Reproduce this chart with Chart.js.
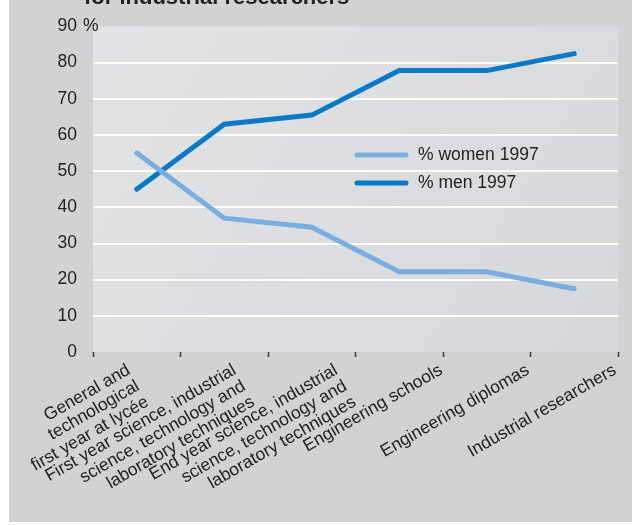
<!DOCTYPE html>
<html>
<head>
<meta charset="utf-8">
<script src="https://cdn.jsdelivr.net/npm/chart.js@4/dist/chart.umd.min.js"></script>
<style>
  html, body { margin: 0; padding: 0; background: #ffffff; }
  #wrap { width: 632px; height: 525px; }
</style>
</head>
<body>
<div id="wrap"><canvas id="chart" width="632" height="525"></canvas></div>
<script>
// Education stages, from lycée to industrial research
const categories = [
  ['General and', 'technological', 'first year at lycée'],
  ['First year science, industrial', 'science, technology and', 'laboratory techniques'],
  ['End year science, industrial', 'science, technology and', 'laboratory techniques'],
  'Engineering schools',
  'Engineering diplomas',
  'Industrial researchers'
];

// Shares of women and men at each stage, 1997 (%)
const womenShare = [55, 37, 34.5, 22.2, 22.2, 17.5];
const menShare = [45, 63, 65.5, 77.8, 77.8, 82.5];

const seriesNames = ['% women 1997', '% men 1997'];
const seriesColors = ['#78aee0', '#0a79c6'];

const yMin = 0, yMax = 90, yStep = 10;
const titleText = 'for industrial researchers';

const FONT = '"Liberation Sans", Arial, sans-serif';
const TEXT = '#222222';

// Where each rotated category label ends, in category units
// (multi-line labels sit a little left of their column edge)
const labelAnchor = [-0.09, 1.12, 2.28, 3.48, 4.47, 5.465];

// Panel, plot background and the heading strip
const backdrop = {
  id: 'backdrop',
  beforeDraw(chart) {
    const { ctx, chartArea: a } = chart;
    ctx.save();
    ctx.fillStyle = '#ffffff';
    ctx.fillRect(0, 0, chart.width, chart.height);
    ctx.fillStyle = '#d1d2d4';
    ctx.fillRect(9, 0, chart.width - 9, chart.height - 3);

    const g = ctx.createLinearGradient(a.left, a.top, a.right, a.bottom);
    g.addColorStop(0, '#e4e5e7');
    g.addColorStop(1, '#d9dadc');
    ctx.fillStyle = g;
    ctx.fillRect(a.left, a.top, a.right - a.left, a.bottom - a.top);

    // faint diagonal hatching
    ctx.beginPath();
    ctx.rect(a.left, a.top, a.right - a.left, a.bottom - a.top);
    ctx.clip();
    ctx.strokeStyle = 'rgba(120,120,130,0.07)';
    ctx.lineWidth = 1;
    const h = a.bottom - a.top;
    for (let x = a.left - h; x < a.right; x += 4) {
      ctx.beginPath();
      ctx.moveTo(x, a.top);
      ctx.lineTo(x + h, a.bottom);
      ctx.stroke();
    }
    ctx.restore();

    ctx.save();
    ctx.fillStyle = TEXT;
    ctx.font = 'bold 22px ' + FONT;
    ctx.textAlign = 'left';
    ctx.textBaseline = 'alphabetic';
    ctx.fillText(titleText, 84, 4);
    ctx.restore();
  }
};

// Legend drawn inside the plot, and the unit after the top tick
const overlay = {
  id: 'overlay',
  afterDatasetsDraw(chart) {
    const { ctx } = chart;
    const y = chart.scales.y;
    ctx.save();
    ctx.font = '17.5px ' + FONT;
    ctx.fillStyle = TEXT;
    ctx.textBaseline = 'middle';
    ctx.textAlign = 'left';
    ctx.fillText('%', 83, y.getPixelForValue(yMax));

    const rows = [155, 183];
    chart.data.datasets.forEach((ds, i) => {
      ctx.strokeStyle = ds.borderColor;
      ctx.lineWidth = 5;
      ctx.lineCap = 'round';
      ctx.beginPath();
      ctx.moveTo(357, rows[i]);
      ctx.lineTo(406, rows[i]);
      ctx.stroke();
      ctx.fillStyle = TEXT;
      ctx.fillText(ds.label, 418, rows[i]);
    });
    ctx.restore();
  }
};

function noSidePadding(scale) {
  scale.paddingLeft = 0;
  scale.paddingRight = 0;
}

new Chart(document.getElementById('chart'), {
  type: 'line',
  data: {
    labels: categories,
    datasets: [
      {
        label: seriesNames[0],
        data: womenShare,
        borderColor: seriesColors[0],
        borderWidth: 5,
        pointRadius: 0,
        borderCapStyle: 'round',
        borderJoinStyle: 'miter',
        tension: 0
      },
      {
        label: seriesNames[1],
        data: menShare,
        borderColor: seriesColors[1],
        borderWidth: 5,
        pointRadius: 0,
        borderCapStyle: 'round',
        borderJoinStyle: 'miter',
        tension: 0
      }
    ]
  },
  options: {
    responsive: false,
    animation: false,
    events: [],
    layout: { padding: { top: 25, right: 14, bottom: 0, left: 0 } },
    plugins: {
      legend: { display: false },
      tooltip: { enabled: false },
      title: { display: false }
    },
    scales: {
      // category axis: carries the data and the column tick marks
      x: {
        weight: 0,
        offset: true,
        border: { display: false },
        grid: {
          display: true,
          offset: true,
          drawOnChartArea: false,
          drawTicks: true,
          tickLength: 5,
          tickColor: '#3a3a3a',
          tickWidth: 1.5
        },
        ticks: { display: false },
        afterFit(scale) { scale.height = 5; noSidePadding(scale); }
      },
      // label row under the tick marks, same span as the category axis
      xLabels: {
        type: 'linear',
        position: 'bottom',
        weight: 1,
        min: -0.5,
        max: 5.5,
        border: { display: false },
        grid: { display: false },
        afterBuildTicks(scale) {
          scale.ticks = labelAnchor.map((v) => ({ value: v }));
        },
        ticks: {
          autoSkip: false,
          minRotation: 30,
          maxRotation: 30,
          padding: -4,
          color: TEXT,
          font: { family: FONT, size: 17.5, lineHeight: 1.05 },
          callback: (value, index) => categories[index]
        },
        afterFit(scale) { scale.height = 168; noSidePadding(scale); }
      },
      y: {
        min: yMin,
        max: yMax,
        border: { display: false },
        grid: {
          drawTicks: false,
          lineWidth: 2,
          color: (c) => (c.tick && (c.tick.value === yMin || c.tick.value === yMax)) ? 'rgba(0,0,0,0)' : 'rgba(255,255,255,0.9)'
        },
        ticks: {
          stepSize: yStep,
          padding: 16,
          color: TEXT,
          font: { family: FONT, size: 17.5 }
        },
        afterFit(scale) { scale.width = 93; }
      }
    }
  },
  plugins: [backdrop, overlay]
});
</script>
</body>
</html>
